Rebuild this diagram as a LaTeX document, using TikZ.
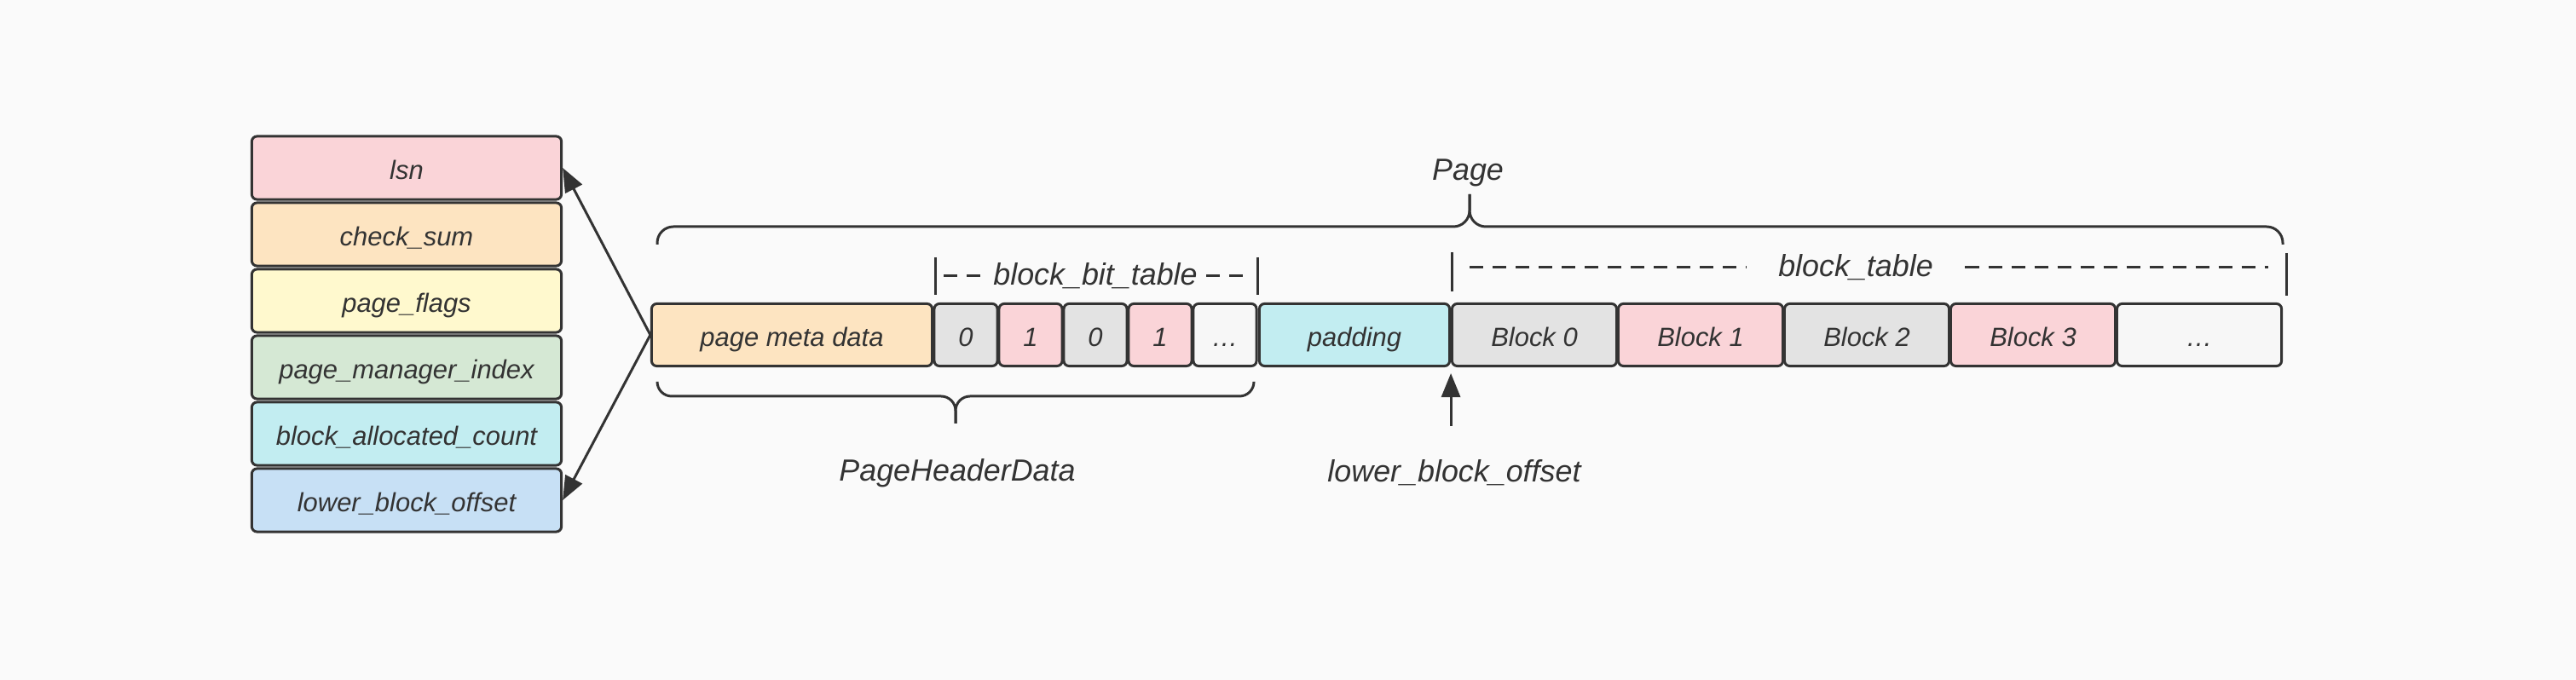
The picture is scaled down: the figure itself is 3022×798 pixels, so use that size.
\documentclass[tikz,border=0pt]{standalone}
\usepackage{fontspec}
\setmainfont{Liberation Sans}
\usetikzlibrary{arrows.meta,positioning}
\definecolor{ink}{HTML}{333333}
\definecolor{pagebg}{HTML}{FAFAFA}
\definecolor{cpink}{HTML}{FAD4D8}
\definecolor{corange}{HTML}{FDE4C1}
\definecolor{cyellow}{HTML}{FFF9CE}
\definecolor{cgreen}{HTML}{D5E8D4}
\definecolor{ccyan}{HTML}{C2EDF1}
\definecolor{cblue}{HTML}{C7E0F5}
\definecolor{cgrey}{HTML}{E3E3E3}
\definecolor{clight}{HTML}{F7F7F7}

\begin{document}
\begin{tikzpicture}[x=0.01cm,y=-0.01cm]
\tikzset{cell/.style = {draw=ink,line width=0.85pt,rounded corners=0.06cm,minimum height=0.73cm,inner sep=0pt,text height=7.4pt,text depth=0pt,text=ink,font=\fontsize{8.8}{10}\selectfont\itshape},
  field/.style = {cell,minimum width=3.63cm,minimum height=0.74cm},
  lbl/.style = {text=ink,inner sep=1pt,font=\fontsize{10.2}{12}\selectfont\itshape},
  bar/.style = {draw=ink,line width=0.85pt},
  dashline/.style = {bar,dash pattern=on 0.16cm off 0.11cm},
  arr/.style = {bar,-{Triangle[length=0.28cm,width=0.22cm]}}}
\fill[pagebg] (0,0) rectangle (3022,798);
\useasboundingbox (0,0) rectangle (3022,798);
% header fields
\foreach \i/\name/\col/\txt in {0/lsn/cpink/lsn,1/checksum/corange/check\_sum,2/flags/cyellow/page\_flags,3/mgridx/cgreen/page\_manager\_index,4/alloccnt/ccyan/block\_allocated\_count,5/lowerofs/cblue/lower\_block\_offset} {
    \node[field,fill=\col] (\name) at (477,197+78*\i) {\txt};
}
% page row
\node[cell,fill=corange,minimum width=3.29cm] (meta) at (929,393) {page meta data};
\foreach \i/\b/\col in {0/0/cgrey,1/1/cpink,2/0/cgrey,3/1/cpink,4/\ldots/clight} {
    \node[cell,fill=\col,minimum width=0.74cm] (bit\i) at (1133+76*\i,393) {\b};
}
\node[cell,fill=ccyan,minimum width=2.23cm] (padding) at (1589,393) {padding};
\foreach \i/\col/\txt in {0/cgrey/Block 0,1/cpink/Block 1,2/cgrey/Block 2,3/cpink/Block 3,4/clight/\ldots} {
    \node[cell,fill=\col,minimum width=1.93cm] (blk\i) at (1800+195*\i,393) {\txt};
}
% braces
\draw[bar,rounded corners=0.19cm] (771,287) -- (771,266) -- (1724,266) -- (1724,228);
\draw[bar,rounded corners=0.19cm] (2678,287) -- (2678,266) -- (1724,266) -- (1724,228);
\node[lbl] (page) at (1722,203) {Page};
\draw[bar,rounded corners=0.17cm] (771,448) -- (771,465) -- (1121,465) -- (1121,497);
\draw[bar,rounded corners=0.17cm] (1471,448) -- (1471,465) -- (1121,465) -- (1121,497);
\node[lbl] (phd) at (1123,555) {PageHeaderData};
% block_bit_table
\draw[bar] (1097,302) -- (1097,346);
\draw[bar] (1475,302) -- (1475,346);
\coordinate (bbl) at (1107,324);
\coordinate (bbr) at (1463,324);
\node[lbl,inner xsep=0.1cm] (bbt) at (1285,324) {block\_bit\_table};
\draw[dashline] (bbl) -- (bbt.west);
\draw[dashline] (bbt.east) -- (bbr);
% block_table
\draw[bar] (1703,296) -- (1703,342);
\draw[bar] (2682,297) -- (2682,347);
\coordinate (btl) at (1724,314);
\coordinate (btr) at (2661,314);
\node[lbl,inner xsep=0.37cm] (bt) at (2177,314) {block\_table};
\draw[dashline] (btl) -- (bt.west);
\draw[dashline] (bt.east) -- (btr);
% pointers
\draw[arr] (meta.west) -- (lsn.east);
\draw[arr] (meta.west) -- (lowerofs.east);
\coordinate (ofs) at ([yshift=-0.69cm]padding.south east);
\draw[arr] (ofs) -- ([yshift=-0.07cm]padding.south east);
\node[lbl] (lbo) at (1706,555) {lower\_block\_offset};
\end{tikzpicture}
\end{document}
